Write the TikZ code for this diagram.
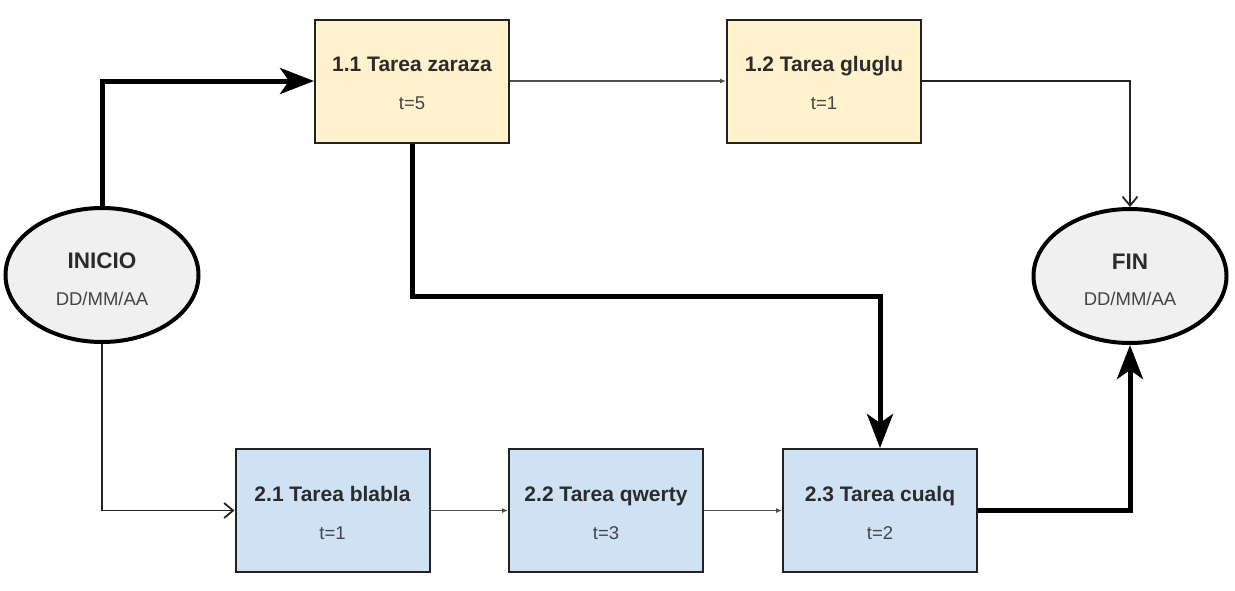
\documentclass[tikz,border=0pt]{standalone}
\usepackage{fontspec}
\setmainfont{Liberation Sans}
\setsansfont{Liberation Sans}
\usetikzlibrary{shapes.geometric,arrows.meta}
\definecolor{yfill}{HTML}{FFF2CC}
\definecolor{bfill}{HTML}{CFE2F3}
\definecolor{efill}{HTML}{F0F0F0}
\definecolor{bline}{HTML}{222222}
\definecolor{ttl}{HTML}{2B2B2B}
\definecolor{sub}{HTML}{444444}
\tikzset{
  taskbox/.style={draw=bline, line width=2pt, minimum width=194pt, minimum height=123pt, inner sep=0pt},
  ybox/.style={taskbox, fill=yfill},
  bbox/.style={taskbox, fill=bfill},
  endpt/.style={ellipse, draw=black, line width=4pt, fill=efill, minimum width=193pt, minimum height=134pt, inner sep=0pt},
  ttltext/.style={font=\bfseries\fontsize{21}{25}\selectfont, text=ttl, inner sep=0pt, anchor=base},
  subtext/.style={font=\fontsize{18.5}{22}\selectfont, text=sub, inner sep=0pt, anchor=base},
  endttl/.style={font=\bfseries\fontsize{22.5}{26}\selectfont, text=ttl, inner sep=0pt, anchor=base},
  endsub/.style={font=\fontsize{18.5}{22}\selectfont, text=sub, inner sep=0pt, anchor=base},
  crit/.style={draw=black, line width=5pt, -{Stealth[length=34pt,width=26pt,inset=9pt]}},
  thinopen/.style={draw=bline, line width=1.8pt, -{Straight Barb[length=9pt,width=15pt,line width=1.8pt]}},
  thinsmall/.style={draw=bline!80, line width=1.4pt, -{Latex[length=6pt,width=5pt]}}
}
\begin{document}
\begin{tikzpicture}[x=1pt,y=-1pt]
\fill[white] (0,0) rectangle (1235,590);
\useasboundingbox (0,0) rectangle (1235,590);

% nodes
\node[ybox] (b11) at (412,81) {};
\node[ybox] (b12) at (824,81) {};
\node[bbox] (b21) at (332.5,510.5) {};
\node[bbox] (b22) at (606,510.5) {};
\node[bbox] (b23) at (880,510.5) {};
\node[endpt] (ini) at (102,275) {};
\node[endpt] (fin) at (1130,276) {};

% texts
\node[ttltext] (t11) at (412,71.5) {1.1 Tarea zaraza};
\node[subtext] (s11) at (412,109.5) {t=5};
\node[ttltext] (t12) at (824,71.5) {1.2 Tarea gluglu};
\node[subtext] (s12) at (824,109.5) {t=1};
\node[ttltext] (t21) at (332.5,501.5) {2.1 Tarea blabla};
\node[subtext] (s21) at (332.5,539.5) {t=1};
\node[ttltext] (t22) at (606,501.5) {2.2 Tarea qwerty};
\node[subtext] (s22) at (606,539.5) {t=3};
\node[ttltext] (t23) at (880,501.5) {2.3 Tarea cualq};
\node[subtext] (s23) at (880,539.5) {t=2};
\node[endttl] (ti) at (102,268) {INICIO};
\node[endsub] (si) at (102,305.5) {DD/MM/AA};
\node[endttl] (tf) at (1130,269) {FIN};
\node[endsub] (sf) at (1130,305.5) {DD/MM/AA};

\coordinate (midrow) at (0,296);

% connectors
\draw[crit] (ini.north) |- (b11.west);
\draw[crit] (b11.south) -- (b11.south |- midrow) -| (b23.north);
\draw[crit] (b23.east) -| (fin.south);
\draw[thinsmall] (b11.east) -- (b12.west);
\draw[thinopen] (b12.east) -| (fin.north);
\draw[thinopen] (ini.south) |- (b21.west);
\draw[thinsmall] (b21.east) -- (b22.west);
\draw[thinsmall] (b22.east) -- (b23.west);
\end{tikzpicture}
\end{document}
